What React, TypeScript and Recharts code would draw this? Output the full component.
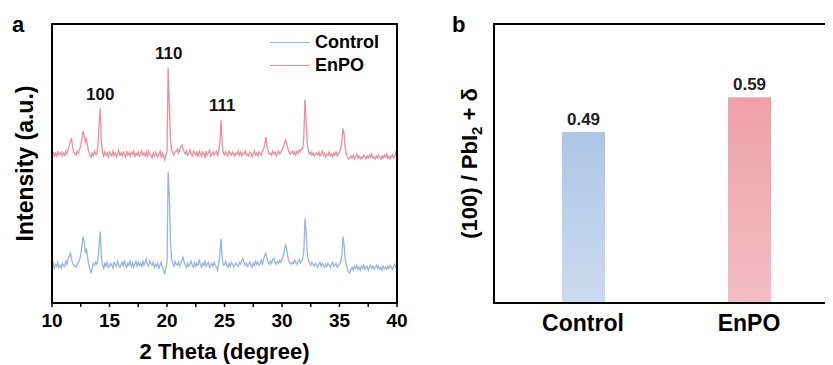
import {
  LineChart,
  Line,
  XAxis,
  YAxis,
  Legend,
  ReferenceDot,
  BarChart,
  Bar,
  Cell,
  LabelList,
} from "recharts";

const FONT = '"Liberation Sans", Arial, Helvetica, sans-serif';

// XRD scan, 2θ from 10° to 40° in 0.1° steps (arbitrary intensity, patterns offset)
const thetaStart = 10;
const thetaStep = 0.1;

const controlCounts = [
  36, 40, 35, 39, 37, 41, 36, 38, 35, 40,
  38, 37, 42, 39, 44, 47, 51, 44, 40, 38,
  37, 36, 39, 41, 44, 48, 58, 67, 62, 50,
  55, 46, 38, 34, 30, 36, 40, 38, 41, 39,
  44, 58, 72, 45, 38, 35, 40, 37, 41, 36,
  37, 40, 38, 35, 41, 39, 37, 42, 38, 36,
  39, 41, 37, 43, 38, 36, 40, 38, 42, 37,
  40, 36, 39, 42, 37, 41, 38, 40, 36, 43,
  38, 41, 44, 39, 37, 42, 40, 38, 41, 36,
  39, 37, 40, 35, 38, 41, 36, 33, 29, 35,
  40, 132, 110, 62, 44, 40, 37, 42, 39, 38,
  41, 37, 40, 43, 46, 41, 38, 36, 40, 37,
  39, 42, 38, 36, 41, 37, 40, 38, 43, 39,
  36, 40, 38, 42, 37, 39, 41, 36, 38, 40,
  37, 41, 38, 36, 33, 40, 50, 65, 45, 38,
  39, 42, 38, 36, 40, 37, 41, 39, 36, 38,
  40, 38, 37, 41, 39, 43, 45, 41, 38, 40,
  37, 39, 41, 38, 36, 40, 38, 42, 39, 41,
  38, 40, 43, 39, 44, 48, 50, 45, 41, 39,
  42, 40, 44, 45, 41, 39, 42, 40, 43, 41,
  44, 47, 52, 59, 55, 47, 42, 40, 39, 41,
  40, 43, 41, 39, 42, 44, 40, 42, 45, 52,
  85, 72, 50, 43, 40, 38, 41, 39, 37, 40,
  38, 36, 39, 41, 37, 40, 38, 36, 39, 37,
  40, 38, 36, 39, 41, 37, 38, 40, 36, 38,
  39, 41, 48, 67, 58, 44, 38, 34, 31, 30,
  34, 36, 33, 37, 35, 38, 34, 36, 33, 37,
  35, 38, 34, 36, 37, 33, 36, 38, 35, 37,
  34, 36, 38, 35, 37, 34, 36, 33, 37, 35,
  36, 34, 37, 35, 38, 36, 34, 37, 39, 36,
  38,
];

const enpoCounts = [
  146, 152, 148, 151, 147, 153, 149, 150, 152, 148,
  151, 149, 153, 150, 155, 158, 163, 166, 157, 152,
  150, 149, 153, 151, 155, 158, 165, 173, 168, 162,
  165, 158, 152, 149, 147, 151, 149, 153, 150, 150,
  160, 180, 196, 162, 152, 148, 152, 149, 151, 147,
  152, 150, 148, 153, 149, 151, 147, 150, 154, 149,
  151, 148, 152, 150, 147, 153, 149, 151, 148, 152,
  150, 153, 147, 151, 149, 152, 148, 150, 153, 149,
  151, 148, 152, 147, 153, 150, 149, 146, 151, 148,
  152, 149, 147, 150, 153, 146, 151, 148, 144, 149,
  152, 237, 200, 165, 154, 151, 149, 152, 153, 155,
  151, 154, 157, 159, 155, 152, 150, 153, 149, 151,
  154, 150, 148, 153, 151, 149, 152, 147, 153, 150,
  148, 152, 150, 146, 153, 149, 151, 154, 148, 150,
  152, 149, 151, 153, 148, 153, 162, 184, 160, 151,
  149, 152, 150, 148, 153, 151, 149, 152, 150, 148,
  151, 150, 153, 149, 152, 148, 151, 150, 153, 149,
  150, 148, 152, 151, 147, 150, 153, 149, 151, 148,
  152, 150, 149, 153, 155, 159, 167, 158, 152, 150,
  151, 149, 153, 150, 152, 148, 151, 153, 150, 152,
  154, 157, 160, 164, 161, 156, 152, 150, 151, 153,
  150, 152, 149, 153, 151, 154, 152, 155, 155, 168,
  205, 182, 160, 153, 150, 152, 149, 151, 148, 150,
  151, 149, 152, 148, 150, 153, 149, 151, 147, 150,
  149, 152, 148, 150, 147, 151, 149, 152, 148, 150,
  152, 155, 162, 176, 170, 156, 150, 147, 145, 146,
  148, 146, 149, 145, 147, 150, 146, 148, 145, 147,
  146, 149, 147, 145, 148, 146, 149, 147, 150, 146,
  147, 145, 148, 146, 149, 147, 145, 148, 146, 149,
  147, 150, 146, 148, 145, 147, 149, 146, 148, 152,
  150,
];

const thetaTicks = [10, 12.5, 15, 17.5, 20, 22.5, 25, 27.5, 30, 32.5, 35, 37.5, 40];
const intensityMax = 281;

// peak indices written above the EnPO pattern
const peakNames = ["100", "110", "111"];
const peakTheta = [14.2, 20.15, 24.8];
const peakLabelLevel = [211, 252, 199];

// panel b
const ratioNames = ["Control", "EnPO"];
const ratioValues = [0.49, 0.59];

const xrdData = controlCounts.map((c, i) => ({
  theta: Math.round((thetaStart + i * thetaStep) * 10) / 10,
  Control: c,
  EnPO: enpoCounts[i],
}));

const ratioData = ratioNames.map((name, i) => ({ name, value: ratioValues[i] }));

const BLUE = "#93b6e4";
const RED = "#ee8e9b";
const FRAME = { stroke: "#000", strokeWidth: 2 };

const XrdLegend = ({ payload }: any) => (
  <div style={{ fontFamily: FONT, fontWeight: 700, fontSize: 18, color: "#000" }}>
    {(payload || []).map((p: any) => (
      <div key={p.value} style={{ display: "flex", alignItems: "center", height: 23 }}>
        <span
          style={{
            display: "inline-block",
            width: 40,
            borderTop: `1.5px solid ${p.color}`,
            marginRight: 5,
          }}
        />
        <span>{p.value}</span>
      </div>
    ))}
  </div>
);

const IntensityTitle = ({ viewBox }: any) => {
  const cy = viewBox.y + viewBox.height / 2;
  return (
    <text
      transform={`translate(33, ${cy}) rotate(-90)`}
      textAnchor="middle"
      fontSize={23}
      fontWeight={700}
      fill="#000"
    >
      Intensity (a.u.)
    </text>
  );
};

const ThetaTitle = ({ viewBox }: any) => (
  <text
    x={viewBox.x + viewBox.width / 2}
    y={viewBox.y + 56}
    textAnchor="middle"
    fontSize={22}
    fontWeight={700}
    fill="#000"
  >
    2 Theta (degree)
  </text>
);

const RatioTitle = ({ viewBox }: any) => {
  const cy = viewBox.y + viewBox.height / 2;
  return (
    <text
      transform={`translate(57, ${cy}) rotate(-90)`}
      textAnchor="middle"
      fontSize={22}
      fontWeight={700}
      fill="#000"
    >
      (100) / PbI
      <tspan dy={5} fontSize={15}>2</tspan>
      <tspan dy={-5}> + δ</tspan>
    </text>
  );
};

export default function App() {
  return (
    <div
      style={{
        position: "relative",
        margin: "-8px 0 0 -8px",
        width: 833,
        height: 365,
        overflow: "hidden",
        background: "#fff",
        fontFamily: FONT,
      }}
    >
      <div style={{ position: "absolute", left: 12, top: 12, fontSize: 22, fontWeight: 700, lineHeight: "26px" }}>a</div>
      <div style={{ position: "absolute", left: 452, top: 12, fontSize: 22, fontWeight: 700, lineHeight: "26px" }}>b</div>

      <div style={{ position: "absolute", left: 0, top: 0 }}>
        <LineChart
          width={420}
          height={365}
          data={xrdData}
          margin={{ top: 24, right: 23, bottom: 0, left: 0 }}
        >
          <XAxis
            dataKey="theta"
            type="number"
            domain={[10, 40]}
            ticks={thetaTicks}
            allowDataOverflow
            tickFormatter={(v: number) => (v % 5 === 0 ? String(v) : "")}
            tick={{ fill: "#000", fontSize: 19, fontWeight: 700 }}
            tickSize={4}
            tickMargin={7}
            axisLine={FRAME}
            tickLine={{ stroke: "#000", strokeWidth: 1.5 }}
            height={62}
            label={(props: any) => <ThetaTitle {...props} />}
          />
          <YAxis
            type="number"
            domain={[0, intensityMax]}
            allowDataOverflow
            tick={false}
            tickLine={false}
            axisLine={FRAME}
            width={52}
            label={(props: any) => <IntensityTitle {...props} />}
          />
          <Legend
            layout="vertical"
            align="center"
            verticalAlign="middle"
            content={(props: any) => <XrdLegend {...props} />}
            wrapperStyle={{ position: "absolute", left: 270, top: 31, width: "auto", height: "auto" }}
          />
          <Line
            type="linear"
            dataKey="Control"
            name="Control"
            stroke={BLUE}
            strokeWidth={1.3}
            dot={false}
            isAnimationActive={false}
          />
          <Line
            type="linear"
            dataKey="EnPO"
            name="EnPO"
            stroke={RED}
            strokeWidth={1.3}
            dot={false}
            isAnimationActive={false}
          />
          {peakNames.map((name, i) => (
            <ReferenceDot
              key={name}
              x={peakTheta[i]}
              y={peakLabelLevel[i]}
              r={0.01}
              fill="none"
              stroke="none"
              label={{
                value: name,
                position: "center",
                fontSize: 17,
                fontWeight: 700,
                fill: "#111",
              }}
            />
          ))}
        </LineChart>
      </div>

      <div style={{ position: "absolute", left: 420, top: 0 }}>
        <BarChart
          width={424}
          height={365}
          data={ratioData}
          margin={{ top: 24, right: 6, bottom: 0, left: 0 }}
        >
          <defs>
            <linearGradient id="gradControl" x1="0" y1="0" x2="0" y2="1">
              <stop offset="0%" stopColor="#adc6e6" />
              <stop offset="100%" stopColor="#cbdbef" />
            </linearGradient>
            <linearGradient id="gradEnPO" x1="0" y1="0" x2="0" y2="1">
              <stop offset="0%" stopColor="#eea0a9" />
              <stop offset="100%" stopColor="#f3bec4" />
            </linearGradient>
          </defs>
          <XAxis
            dataKey="name"
            padding={{ left: 6, right: 6 }}
            tick={{ fill: "#000", fontSize: 23, fontWeight: 700 }}
            tickLine={false}
            tickSize={0}
            tickMargin={12}
            axisLine={FRAME}
            height={62}
          />
          <YAxis
            type="number"
            domain={[0, 0.8]}
            allowDataOverflow
            tick={false}
            tickLine={false}
            axisLine={FRAME}
            width={74}
            label={(props: any) => <RatioTitle {...props} />}
          />
          <Bar dataKey="value" barSize={43} isAnimationActive={false}>
            {ratioData.map((d) => (
              <Cell key={d.name} fill={d.name === "Control" ? "url(#gradControl)" : "url(#gradEnPO)"} />
            ))}
            <LabelList
              dataKey="value"
              position="top"
              offset={7}
              formatter={(v: any) => Number(v).toFixed(2)}
              style={{ fill: "#222", fontSize: 17, fontWeight: 700 }}
            />
          </Bar>
        </BarChart>
      </div>

      {/* plot frames drawn on top; panel b's right edge runs off the page */}
      <svg
        width={833}
        height={365}
        style={{ position: "absolute", left: 0, top: 0, zIndex: 5, pointerEvents: "none" }}
      >
        <rect x={52} y={24} width={345} height={279} fill="none" stroke="#000" strokeWidth={2} />
        <rect x={494} y={24} width={400} height={279} fill="none" stroke="#000" strokeWidth={2} />
      </svg>
    </div>
  );
}
